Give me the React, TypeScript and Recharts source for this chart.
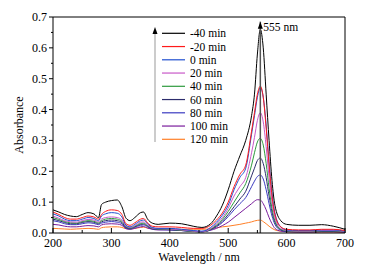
import { LineChart, Line, XAxis, YAxis, ReferenceLine } from "recharts";

const WAVE = [200,210,220,230,240,250,260,270,278,283,290,300,310,318,325,332,340,350,355,362,370,380,400,420,440,455,470,480,490,500,510,520,530,540,545,550,555,560,565,570,575,580,590,600,620,640,660,680,700];

const M40 = [0.075,0.068,0.06,0.055,0.053,0.06,0.066,0.062,0.05,0.092,0.1,0.105,0.107,0.085,0.048,0.04,0.05,0.066,0.068,0.045,0.032,0.028,0.032,0.03,0.022,0.018,0.03,0.055,0.09,0.14,0.2,0.25,0.3,0.38,0.45,0.58,0.66,0.6,0.45,0.3,0.17,0.09,0.04,0.028,0.025,0.025,0.027,0.022,0.012];
const M20 = [0.068,0.06,0.05,0.045,0.045,0.05,0.055,0.052,0.045,0.06,0.07,0.075,0.073,0.06,0.03,0.025,0.033,0.045,0.047,0.033,0.022,0.02,0.02,0.018,0.015,0.015,0.025,0.042,0.065,0.1,0.15,0.19,0.22,0.33,0.39,0.45,0.476,0.44,0.34,0.22,0.12,0.06,0.02,0.012,0.01,0.01,0.012,0.012,0.008];
const P0 = [0.062,0.055,0.045,0.04,0.04,0.045,0.05,0.047,0.04,0.055,0.062,0.066,0.064,0.052,0.025,0.02,0.028,0.04,0.042,0.03,0.018,0.015,0.015,0.012,0.008,0.006,0.018,0.035,0.058,0.09,0.14,0.18,0.21,0.32,0.38,0.44,0.472,0.44,0.35,0.23,0.13,0.065,0.02,0.01,0.008,0.008,0.01,0.01,0.006];
const P20 = [0.055,0.048,0.04,0.036,0.035,0.04,0.044,0.042,0.036,0.045,0.05,0.052,0.05,0.042,0.022,0.018,0.024,0.035,0.036,0.026,0.016,0.014,0.013,0.01,0.006,0.004,0.014,0.03,0.05,0.08,0.12,0.15,0.18,0.26,0.31,0.365,0.39,0.36,0.28,0.18,0.1,0.05,0.015,0.008,0.006,0.006,0.008,0.008,0.005];
const P40 = [0.05,0.044,0.037,0.033,0.032,0.037,0.04,0.038,0.033,0.04,0.045,0.047,0.045,0.038,0.02,0.016,0.022,0.031,0.032,0.024,0.015,0.013,0.012,0.009,0.005,0.004,0.012,0.026,0.044,0.07,0.1,0.13,0.16,0.22,0.26,0.295,0.307,0.285,0.225,0.145,0.08,0.04,0.012,0.007,0.005,0.005,0.007,0.007,0.004];
const P60 = [0.045,0.04,0.034,0.03,0.03,0.034,0.037,0.035,0.03,0.036,0.04,0.042,0.04,0.034,0.018,0.015,0.02,0.028,0.029,0.022,0.014,0.012,0.011,0.008,0.005,0.004,0.011,0.023,0.038,0.06,0.085,0.11,0.135,0.185,0.21,0.235,0.243,0.225,0.18,0.12,0.068,0.035,0.011,0.006,0.005,0.005,0.006,0.006,0.004];
const P80 = [0.04,0.036,0.03,0.027,0.027,0.03,0.033,0.031,0.027,0.032,0.035,0.037,0.035,0.03,0.016,0.013,0.018,0.025,0.026,0.02,0.013,0.011,0.01,0.008,0.005,0.004,0.01,0.02,0.034,0.053,0.075,0.095,0.115,0.15,0.168,0.183,0.188,0.175,0.14,0.095,0.055,0.028,0.009,0.005,0.004,0.004,0.005,0.005,0.003];
const P100 = [0.028,0.026,0.022,0.02,0.02,0.022,0.024,0.023,0.02,0.026,0.029,0.03,0.029,0.025,0.014,0.012,0.015,0.02,0.021,0.016,0.012,0.01,0.01,0.008,0.006,0.005,0.009,0.015,0.024,0.035,0.05,0.065,0.08,0.095,0.103,0.108,0.107,0.095,0.075,0.05,0.03,0.015,0.006,0.004,0.003,0.003,0.004,0.004,0.003];
const P120 = [0.015,0.014,0.013,0.012,0.013,0.014,0.015,0.014,0.012,0.017,0.019,0.02,0.02,0.018,0.014,0.013,0.015,0.018,0.019,0.016,0.014,0.013,0.013,0.012,0.012,0.012,0.014,0.017,0.02,0.022,0.025,0.028,0.032,0.036,0.039,0.041,0.042,0.037,0.03,0.022,0.015,0.01,0.006,0.004,0.003,0.003,0.003,0.003,0.002];

const SERIES = [
  { key: "m40", name: "-40 min", color: "#000000", vals: M40 },
  { key: "m20", name: "-20 min", color: "#ff1a1a", vals: M20 },
  { key: "p0", name: "0 min", color: "#1f4fd0", vals: P0 },
  { key: "p20", name: "20 min", color: "#c858c8", vals: P20 },
  { key: "p40", name: "40 min", color: "#2e9a3e", vals: P40 },
  { key: "p60", name: "60 min", color: "#2c2c6c", vals: P60 },
  { key: "p80", name: "80 min", color: "#3a3ac0", vals: P80 },
  { key: "p100", name: "100 min", color: "#7a1c9c", vals: P100 },
  { key: "p120", name: "120 min", color: "#ff7f27", vals: P120 },
];

const X_TICKS = [200,250,300,350,400,450,500,550,600,650,700];
const Y_TICKS = [0,0.05,0.1,0.15,0.2,0.25,0.3,0.35,0.4,0.45,0.5,0.55,0.6,0.65,0.7];
const PEAK = 555;

const data = WAVE.map((w, i) => {
  const row: any = { w };
  SERIES.forEach((s) => (row[s.key] = s.vals[i]));
  return row;
});

const FONT = "'Liberation Serif', 'Times New Roman', serif";

const XTick = ({ x, y, payload }: any) => {
  const v = payload.value;
  const major = v % 100 === 0;
  return (
    <g>
      <line x1={x} x2={x} y1={y} y2={y - (major ? 5 : 3)} stroke="#000" />
      {major && (
        <text x={x} y={y + 14} textAnchor="middle" fontSize={12} fontFamily={FONT} fill="#000">
          {v}
        </text>
      )}
    </g>
  );
};

const YTick = ({ x, y, payload }: any) => {
  const v = payload.value;
  const major = Math.round(v * 100) % 10 === 0;
  return (
    <g>
      <line x1={x} x2={x - (major ? 4 : 2)} y1={y} y2={y} stroke="#000" />
      {major && (
        <text x={x - 6} y={y + 4} textAnchor="end" fontSize={12} fontFamily={FONT} fill="#000">
          {v.toFixed(1)}
        </text>
      )}
    </g>
  );
};

const PeakLabel = ({ viewBox }: any) => {
  const x = viewBox.x;
  const top = viewBox.y;
  return (
    <g>
      <path d={`M${x - 2.5},${top + 7} L${x},${top} L${x + 2.5},${top + 7} Z`} fill="#000" />
      <text x={x + 3} y={top + 9} fontSize={11.5} fontFamily={FONT} fill="#000">
        {PEAK} nm
      </text>
    </g>
  );
};

export default function App() {
  return (
    <div style={{ position: "absolute", left: 0, top: 0, width: 378, height: 276, background: "#fff" }}>
      <LineChart width={378} height={276} data={data} margin={{ top: 17, right: 33, bottom: 0, left: 0 }}>
        <XAxis
          dataKey="w"
          type="number"
          domain={[200, 700]}
          ticks={X_TICKS}
          interval={0}
          tickSize={0}
          tickMargin={0}
          tickLine={false}
          tick={<XTick />}
          height={43}
          stroke="#000"
          label={{
            content: ({ viewBox }: any) => (
              <text x={viewBox.x + viewBox.width / 2} y={viewBox.y + 28} textAnchor="middle" fontSize={12} fontFamily={FONT} fill="#000">
                Wavelength / nm
              </text>
            ),
          }}
        />
        <YAxis
          type="number"
          domain={[0, 0.7]}
          ticks={Y_TICKS}
          interval={0}
          tickSize={0}
          tickMargin={0}
          tickLine={false}
          tick={<YTick />}
          width={53}
          stroke="#000"
          label={{
            content: ({ viewBox }: any) => {
              const cx = 20;
              const cy = viewBox.y + viewBox.height / 2;
              return (
                <text x={cx} y={cy} transform={`rotate(-90 ${cx} ${cy})`} textAnchor="middle" dominantBaseline="middle" fontSize={12} fontFamily={FONT} fill="#000">
                  Absorbance
                </text>
              );
            },
          }}
        />
        <ReferenceLine y={0.7} stroke="#000" />
        <ReferenceLine x={700} stroke="#000" />
        {SERIES.slice().reverse().map((s) => (
          <Line
            key={s.key}
            dataKey={s.key}
            type="monotone"
            stroke={s.color}
            strokeWidth={1}
            dot={false}
            isAnimationActive={false}
          />
        ))}
        <ReferenceLine
          segment={[{ x: PEAK, y: 0 }, { x: PEAK, y: 0.685 }]}
          stroke="#555"
          strokeWidth={1.5}
          label={<PeakLabel />}
        />
      </LineChart>
      <svg width={378} height={276} style={{ position: "absolute", left: 0, top: 0, pointerEvents: "none" }}>
        <line x1={155} x2={155} y1={142} y2={32} stroke="#aaa" strokeWidth={1.2} />
        <path d="M152.5,34 L155,27 L157.5,34 Z" fill="#000" />
        {SERIES.map((s, i) => {
          const y = 33.3 + i * 13.25;
          return (
            <g key={s.key}>
              <line x1={162} x2={185} y1={y} y2={y} stroke={s.color} strokeWidth={1.2} />
              <text x={190} y={y + 4} fontSize={11.5} fontFamily={FONT} fill="#000">
                {s.name}
              </text>
            </g>
          );
        })}
      </svg>
    </div>
  );
}
